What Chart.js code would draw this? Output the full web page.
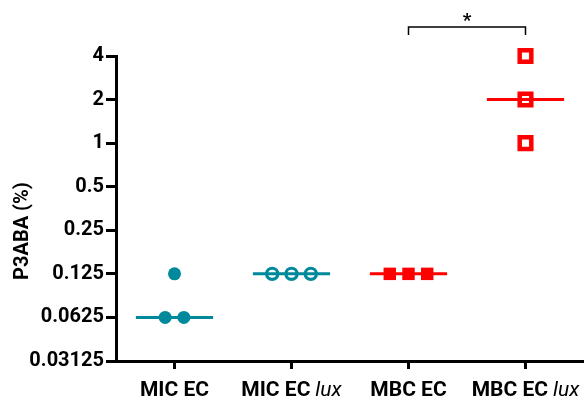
<!DOCTYPE html>
<html><head><meta charset="utf-8">
<script src="https://cdn.jsdelivr.net/npm/chart.js@4/dist/chart.umd.min.js"></script>
<style>html,body{margin:0;padding:0;background:#fff}#wrap{width:584px;height:401px}</style>
</head><body>
<div id="wrap"><canvas id="c" width="584" height="401"></canvas></div>
<script>
const categories = ['MIC EC', 'MIC EC', 'MBC EC', 'MBC EC'];
const categoryItalic = ['', 'lux', '', 'lux'];
const yTicks = [0.03125, 0.0625, 0.125, 0.25, 0.5, 1, 2, 4];
const yTickLabels = ['0.03125', '0.0625', '0.125', '0.25', '0.5', '1', '2', '4'];
const yTitle = 'P3ABA (%)';
const micEC = [0.125, 0.0625, 0.0625];
const micECjitter = [0, -0.08, 0.08];
const micEClux = [0.125, 0.125, 0.125];
const micEcluxJitter = [-0.165, 0, 0.165];
const mbcEC = [0.125, 0.125, 0.125];
const mbcECjitter = [-0.16, 0, 0.16];
const mbcEClux = [4, 2, 1];
const mbcECluxJitter = [0, 0, 0];
const medians = [0.0625, 0.125, 0.125, 2];
const sigPair = [2, 3];
const sigLabel = '*';

const FONT = 'Roboto';
const TEAL = '#00899B', RED = '#FF0000';
const pts = (vals, jit, idx) => vals.map((v, i) => ({x: idx + jit[i], y: v}));
const medLine = (i, color) => ({type: 'line', data: [{x: i - 0.33, y: medians[i]}, {x: i + 0.33, y: medians[i]}],
  borderColor: color, borderWidth: 3, pointRadius: 0, showLine: true, fill: false, order: 0, clip: false});

const overlay = {
  id: 'overlay',
  afterDraw(chart) {
    const ctx = chart.ctx, xs = chart.scales.x, ca = chart.chartArea;
    ctx.save();
    ctx.textBaseline = 'middle';
    categories.forEach((c, i) => {
      const boldF = 'bold 21px ' + FONT, itF = 'italic 21px ' + FONT;
      ctx.font = boldF; const w1 = ctx.measureText(c).width;
      let w2 = 0, sp = 0;
      if (categoryItalic[i]) { ctx.font = itF; w2 = ctx.measureText(categoryItalic[i]).width; sp = 5; }
      const tot = w1 + sp + w2; let x0 = xs.getPixelForValue(i) - tot / 2;
      const y = ca.bottom + 30;
      ctx.fillStyle = '#000'; ctx.textAlign = 'left';
      ctx.font = boldF; ctx.fillText(c, x0, y);
      if (categoryItalic[i]) { ctx.font = itF; ctx.fillText(categoryItalic[i], x0 + w1 + sp, y); }
    });
    ctx.translate(23, 231); ctx.rotate(-Math.PI / 2);
    ctx.font = 'bold 20px ' + FONT; ctx.textAlign = 'center'; ctx.fillText(yTitle, 0, 0);
    ctx.restore();
    ctx.save();
    const xa = xs.getPixelForValue(sigPair[0]), xb = xs.getPixelForValue(sigPair[1]);
    const yt = ca.top - 29, yb = ca.top - 21;
    ctx.strokeStyle = '#000'; ctx.lineWidth = 1.5;
    ctx.beginPath(); ctx.moveTo(xa, yb); ctx.lineTo(xa, yt); ctx.lineTo(xb, yt); ctx.lineTo(xb, yb); ctx.stroke();
    ctx.fillStyle = '#000'; ctx.font = 'bold 19px ' + FONT; ctx.textAlign = 'center'; ctx.textBaseline = 'middle';
    ctx.fillText(sigLabel, (xa + xb) / 2, yt - 6);
    ctx.restore();
  }
};

function build() {
new Chart(document.getElementById('c'), {
  type: 'scatter',
  data: { datasets: [
    medLine(0, TEAL), medLine(1, TEAL), medLine(2, RED), medLine(3, RED),
    {data: pts(micEC, micECjitter, 0), pointStyle: 'circle', pointRadius: 6.5, backgroundColor: TEAL, borderColor: TEAL, borderWidth: 0, order: 1, clip: false},
    {data: pts(micEClux, micEcluxJitter, 1), pointStyle: 'circle', pointRadius: 5.6, backgroundColor: 'rgba(0,0,0,0)', borderColor: TEAL, borderWidth: 3.2, order: 1, clip: false},
    {data: pts(mbcEC, mbcECjitter, 2), pointStyle: 'rect', pointRadius: 8.8, backgroundColor: RED, borderColor: RED, borderWidth: 0, order: 1, clip: false},
    {data: pts(mbcEClux, mbcECluxJitter, 3), pointStyle: 'rect', pointRadius: 8.2, backgroundColor: 'rgba(0,0,0,0)', borderColor: RED, borderWidth: 4.5, order: 1, clip: false}
  ]},
  options: {
    responsive: false, animation: false, devicePixelRatio: 1,
    layout: { autoPadding: false, padding: { top: 56, right: 0, left: 0, bottom: 0 } },
    plugins: { legend: { display: false }, tooltip: { enabled: false } },
    scales: {
      x: { type: 'linear', min: -0.5, max: 3.5,
        afterBuildTicks: s => { s.ticks = categories.map((c, i) => ({value: i})); },
        afterFit: s => { s.height = 40; s.paddingLeft = 0; s.paddingRight = 0; },
        ticks: { display: false },
        grid: { drawOnChartArea: false, tickLength: 8, tickWidth: 3, tickColor: '#000' },
        border: { color: '#000', width: 3 } },
      y: { type: 'logarithmic', min: yTicks[0], max: yTicks[yTicks.length - 1],
        afterBuildTicks: s => { s.ticks = yTicks.map(v => ({value: v})); },
        afterFit: s => { s.width = 116; },
        ticks: { callback: (v, i) => yTickLabels[i], color: '#000', font: { family: FONT, weight: 'bold', size: 20 }, padding: 2 },
        grid: { drawOnChartArea: false, tickLength: 10, tickWidth: 3, tickColor: '#000' },
        border: { color: '#000', width: 3 } }
    }
  },
  plugins: [overlay]
});
}
Promise.all([document.fonts.load('bold 20px Roboto'), document.fonts.load('italic 20px Roboto')]).then(build, build);
</script></body></html>
